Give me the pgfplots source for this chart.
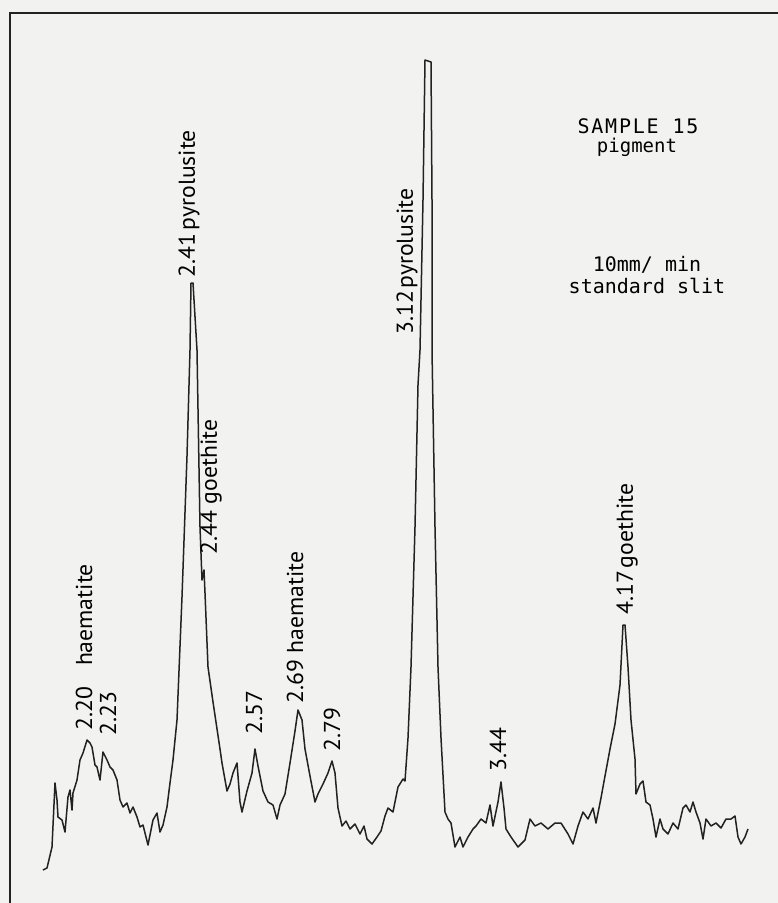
\documentclass[border=0pt]{standalone}
\usepackage{pgfplots}
\pgfplotsset{compat=1.18}
\usepackage{fontspec}
\setmainfont{PT Sans}
\newfontfamily\labelfont[FakeStretch=1.03]{PT Sans}
\newfontfamily\lettering{DejaVu Sans Mono}
\definecolor{paper}{HTML}{F2F2F0}
\definecolor{ink}{HTML}{222222}
\tikzset{peak/.style={rotate=90, anchor=west, font=\labelfont\fontsize{23}{23}\selectfont}}

% pixel grid of the scan: x to the right, y downwards
\pgfplotstableread{
x y
43 870
47 868
52 847
55 783
57 800
58 817
62 820
65 832
68 797
70 790
72 810
73 793
77 780
80 760
83 753
87 740
90 743
92 747
95 765
97 767
100 780
103 752
107 760
110 767
113 770
117 780
120 800
123 807
127 803
130 813
133 807
137 817
140 827
143 825
148 845
153 820
157 813
160 832
163 825
167 807
170 783
173 760
177 720
182 597
187 456
190 350
191 283
193 283
197 350
200 527
202 580
204 570
205 593
208 667
213 702
220 749
222 763
227 791
230 784
233 773
237 763
240 802
242 812
247 791
252 773
255 749
258 766
263 791
268 802
273 805
277 819
280 805
285 794
290 763
295 731
298 710
302 720
305 749
310 776
315 802
318 794
323 784
328 773
332 761
335 773
338 808
342 826
346 821
350 829
355 824
360 834
364 826
367 839
372 844
377 837
381 831
385 816
388 808
393 812
398 787
403 779
405 781
408 738
411 667
415 527
418 385
420 350
423 200
425 60
431 62
432 200
432 350
435 527
438 667
441 738
445 812
448 819
451 823
455 847
460 837
463 847
468 837
473 829
476 826
481 819
486 823
490 805
493 826
498 802
501 782
504 808
506 829
511 837
518 847
525 840
530 819
535 826
541 823
548 829
555 823
561 823
568 834
573 844
578 826
583 812
588 819
593 808
596 823
601 798
605 776
610 749
615 724
620 685
623 625
625 625
628 667
631 720
635 759
636 794
640 784
643 781
646 802
650 805
653 819
656 837
660 819
663 829
668 834
673 823
678 829
683 808
686 805
690 812
693 802
696 812
700 823
703 839
706 819
711 826
716 823
721 828
726 819
731 819
735 816
738 837
741 844
745 837
748 829
}\trace

\begin{document}
\begin{tikzpicture}
\begin{axis}[
  width=778pt, height=903pt, scale only axis,
  xmin=0, xmax=778, ymin=0, ymax=903, y dir=reverse,
  axis line style={draw=none}, ticks=none,
  axis background/.style={fill=paper},
  every node/.style={inner sep=0pt, text=ink},
]
% chart frame
\addplot[ink, line width=1.6pt] coordinates {(10,903) (10,13) (778,13)};
% diffractometer trace
\addplot[ink, line width=1.5pt, line join=round] table[x=x, y=y] {\trace};

\node[peak] at (axis cs:84,734) {2.20\hspace{0.9em}haematite};
\node[peak] at (axis cs:108,739) {2.23};
\node[peak] at (axis cs:189,281) {2.41\hspace{0.15em}pyrolusite};
\node[peak] at (axis cs:211,558) {2.44 goethite};
\node[peak] at (axis cs:254,738) {2.57};
\node[peak] at (axis cs:295,707) {2.69 haematite};
\node[peak] at (axis cs:332,755) {2.79};
\node[peak] at (axis cs:407,338) {3.12\hspace{0.1em}pyrolusite};
\node[peak] at (axis cs:498,775) {3.44};
\node[peak] at (axis cs:627,618) {4.17\hspace{0.1em}goethite};

\node[font=\lettering\addfontfeature{LetterSpace=9}\fontsize{20}{20}\selectfont] at (axis cs:638,126) {SAMPLE 15};
\node[font=\lettering\fontsize{19}{19}\selectfont] at (axis cs:637,147) {pigment};
\node[font=\lettering\fontsize{20}{20}\selectfont] at (axis cs:647,265) {10mm/ min};
\node[font=\lettering\fontsize{20}{20}\selectfont] at (axis cs:647,286) {standard slit};
\end{axis}
\end{tikzpicture}
\end{document}
